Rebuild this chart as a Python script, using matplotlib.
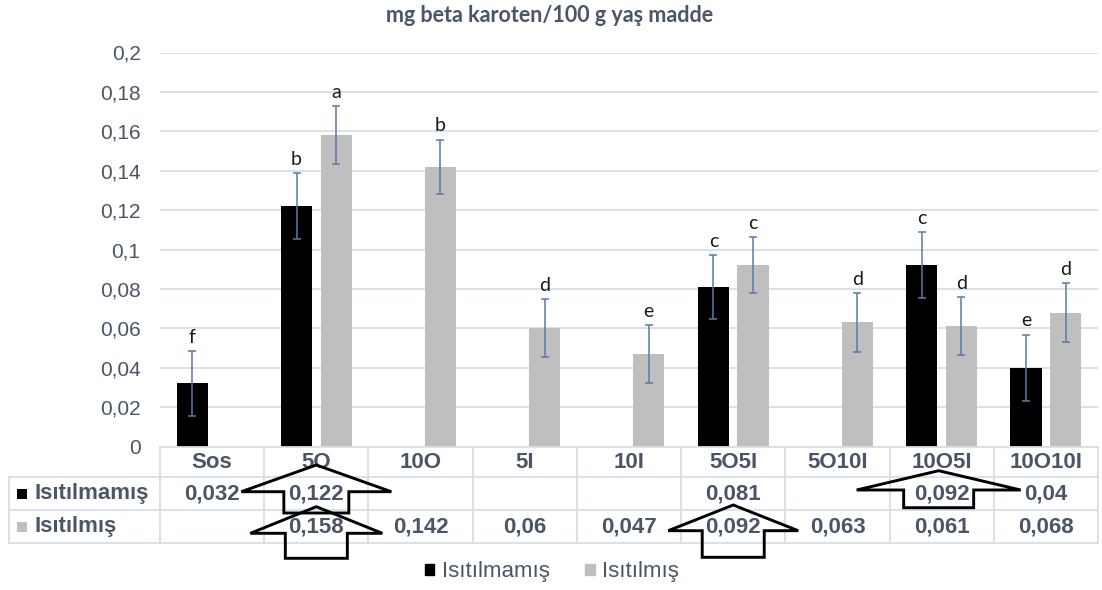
import matplotlib.pyplot as plt
import matplotlib.transforms as mtransforms
from matplotlib.lines import Line2D
from matplotlib.patches import Polygon, Patch
import numpy as np

# veri
kategoriler = ["Sos", "5O", "10O", "5I", "10I", "5O5I", "5O10I", "10O5I", "10O10I"]
isitilmamis = [0.032, 0.122, None, None, None, 0.081, None, 0.092, 0.04]
isitilmis = [None, 0.158, 0.142, 0.06, 0.047, 0.092, 0.063, 0.061, 0.068]
hata_isitilmamis = [0.0163, 0.0169, None, None, None, 0.0163, None, 0.0167, 0.0168]
hata_isitilmis = [None, 0.0147, 0.0137, 0.0148, 0.0147, 0.0143, 0.0148, 0.0147, 0.0148]
harf_isitilmamis = ["f", "b", None, None, None, "c", None, "c", "e"]
harf_isitilmis = [None, "a", "b", "d", "e", "c", "d", "d", "d"]
seriler = ["Isıtılmamış", "Isıtılmış"]

W, H = 1102, 590
yazi = "#4a5668"
cizgi = "#d9dee6"
hata_renk = "#5a7ba6"

fig = plt.figure(figsize=(W / 100, H / 100), dpi=100)
ax = fig.add_axes([160 / W, 1 - 446.5 / H, (1098 - 160) / W, (446.5 - 52.5) / H])

x = np.arange(len(kategoriler))
genislik = 0.30
kayma = 0.19


def ciz(degerler, hatalar, harfler, dx, renk):
    idx = [i for i, v in enumerate(degerler) if v is not None]
    xs = x[idx] + dx
    ys = [degerler[i] for i in idx]
    es = [hatalar[i] for i in idx]
    ax.bar(xs, ys, genislik, color=renk, zorder=2)
    ax.errorbar(xs, ys, yerr=es, fmt="none", ecolor=hata_renk, elinewidth=1.1,
                capsize=3, capthick=1.1, zorder=3)
    for xi, yi, ei, i in zip(xs, ys, es, idx):
        ax.text(xi, yi + ei + 0.007, harfler[i], ha="center", va="center",
                fontsize=14, family="Lato", color="#1a1a1a", zorder=4)


ciz(isitilmamis, hata_isitilmamis, harf_isitilmamis, -kayma, "black")
ciz(isitilmis, hata_isitilmis, harf_isitilmis, kayma, "#bfbfbf")

ax.set_xlim(-0.5, len(kategoriler) - 0.5)
ax.set_ylim(0, 0.2)
yt = np.round(np.arange(0, 0.201, 0.02), 2)
ax.set_yticks(yt)
ax.set_yticklabels([f"{v:g}".replace(".", ",") for v in yt], fontsize=15,
                   family="Liberation Sans", color=yazi)
ax.set_xticks([])
ax.tick_params(axis="y", length=0, pad=14)
ax.grid(axis="y", color=cizgi, linewidth=1.3, zorder=0)
ax.set_axisbelow(True)
for s in ax.spines.values():
    s.set_visible(False)

fig.text(550 / W, 1 - 15 / H, "mg beta karoten/100 g yaş madde", ha="center", va="center",
         fontsize=15.5, family="Lato", fontweight="bold", color=yazi)

# tablo (piksel koordinatlari, ust kenardan)
ident = mtransforms.IdentityTransform()


def px(i):
    return ax.transData.transform((i, 0))[0]


def hline(x0, x1, y):
    fig.add_artist(Line2D([x0, x1], [H - y, H - y], color=cizgi, lw=1.3, transform=ident))


def vline(xp, y0, y1):
    fig.add_artist(Line2D([xp, xp], [H - y0, H - y1], color=cizgi, lw=1.3, transform=ident))


satir = [446.5, 477.3, 510, 543.3]
sol = 9
sag = px(len(kategoriler) - 0.5)
hline(px(-0.5), sag, satir[0])
for y in satir[1:]:
    hline(sol, sag, y)
for i in range(len(kategoriler) + 1):
    vline(px(i - 0.5), satir[0], satir[3])
vline(sol, satir[1], satir[3])


def tyazi(xp, y, s, ha="center"):
    fig.text(xp, H - y, s, ha=ha, va="center", fontsize=16, family="Liberation Sans",
             fontweight="bold", color=yazi, transform=ident)


for i, k in enumerate(kategoriler):
    tyazi(px(i), (satir[0] + satir[1]) / 2 + 1, k)
for r, (ad, degerler, renk) in enumerate(zip(seriler, [isitilmamis, isitilmis], ["black", "#bfbfbf"])):
    yc = (satir[r + 1] + satir[r + 2]) / 2
    fig.add_artist(Polygon([[17, H - yc - 5], [27, H - yc - 5], [27, H - yc + 5], [17, H - yc + 5]],
                           closed=True, facecolor=renk, edgecolor="none", transform=ident))
    tyazi(34, yc, ad, ha="left")
    for i, v in enumerate(degerler):
        if v is not None:
            tyazi(px(i), yc, f"{v:g}".replace(".", ","))


# oklar
def ok(i, uc, kanat, yk, ys, alt, dx=0):
    cx = px(i) + dx
    pts = [[cx, uc], [cx + yk, kanat], [cx + ys, kanat], [cx + ys, alt],
           [cx - ys, alt], [cx - ys, kanat], [cx - yk, kanat]]
    pts = [[a, H - b] for a, b in pts]
    fig.add_artist(Polygon(pts, closed=True, fill=False, edgecolor="black", lw=2.1,
                           joinstyle="miter", transform=ident, zorder=5))


ok(1, 465, 491.7, 75, 32.5, 513)
ok(1, 506.7, 533.3, 66, 31, 558.3)
ok(5, 505, 530.7, 65, 31, 557.3)
ok(7, 470.7, 490, 82, 35, 507.7, dx=-3)

fig.legend(handles=[Patch(color="black"), Patch(color="#bfbfbf")], labels=seriler,
           loc="center", bbox_to_anchor=(552 / W, 1 - 572 / H), ncol=2, frameon=False,
           prop={"family": "Liberation Sans", "size": 16}, labelcolor=yazi,
           handlelength=0.42, handleheight=0.42, handletextpad=0.35, columnspacing=1.6)

fig.savefig("out.png", dpi=100)
